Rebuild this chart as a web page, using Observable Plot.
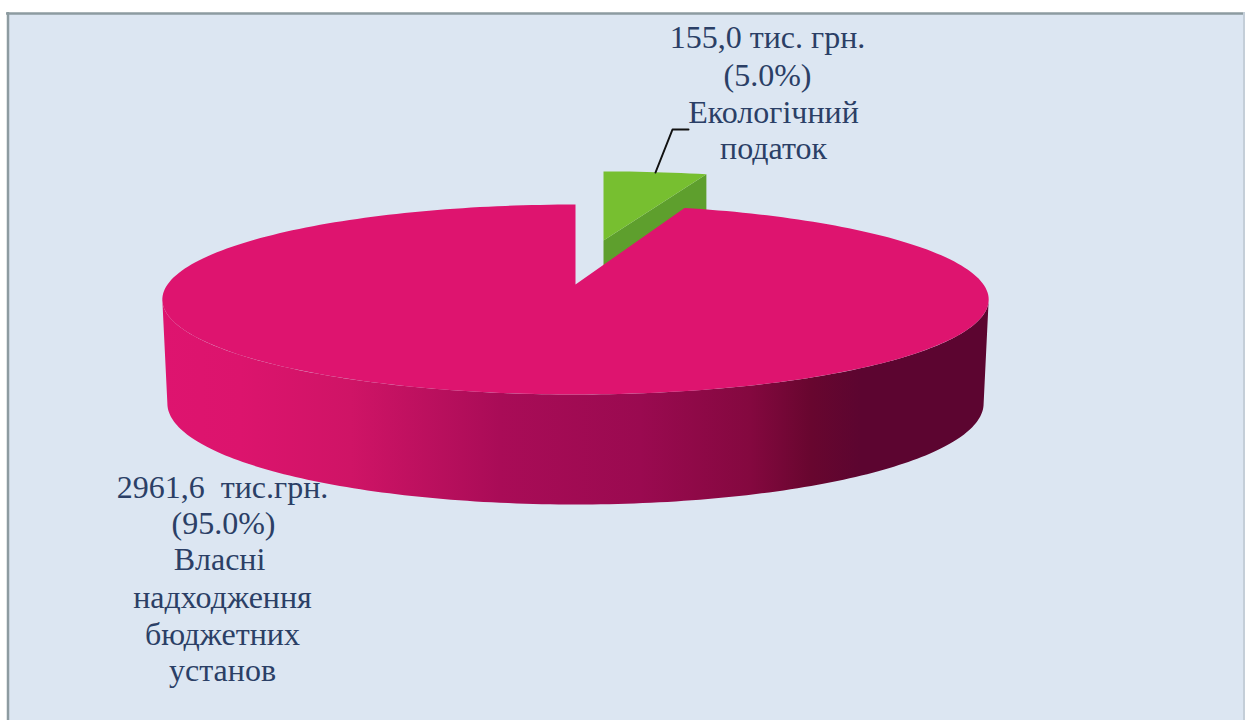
<!DOCTYPE html>
<html><head><meta charset="utf-8">
<script src="https://cdn.jsdelivr.net/npm/d3@7"></script>
<script src="https://cdn.jsdelivr.net/npm/@observablehq/plot@0.6"></script>
<style>html,body{margin:0;padding:0;background:#fff;overflow:hidden}svg{display:block}</style>
</head><body><div id="chart"></div>
<script>
// Data
const categories = ["Екологічний податок", "Власні надходження бюджетних установ"];
const seriesValues = [155.0, 2961.6];
const labelGreen = ["155,0 тис. грн.", "(5.0%)", "Екологічний", "податок"];
const labelPink = ["2961,6  тис.грн.", "(95.0%)", "Власні", "надходження", "бюджетних", "установ"];

// Layout
const W = 1245, H = 720;
const k = 0.158;                 // perspective of the tilted disc
const proj = (a, o) => {
  const w = 1 + k * Math.cos(a);
  return [o.cx + o.A * Math.sin(a) / w, o.cy - o.B * Math.cos(a) / w];
};
const pinkTop = {cx: 575, cy: 284, A: 408, B: 92.6};
const pinkBot = {cx: 575, cy: 387, A: 403, B: 98.5};
const greenTop = {cx: 603, cy: 240, A: 385, B: 80};
const greenBot = {cx: 603, cy: 300, A: 385, B: 80};

const arcs = d3.pie().sort(null).startAngle(0).endAngle(2 * Math.PI)(seriesValues);
const [g, p] = arcs;
const range = (a, b, n) => d3.range(n + 1).map(i => a + (b - a) * i / n);
const toRow = ([x, y]) => ({x, y});

const pinkFace = [[pinkTop.cx, pinkTop.cy], ...range(p.startAngle, p.endAngle, 240).map(a => proj(a, pinkTop))].map(toRow);
const greenFace = [[greenTop.cx, greenTop.cy], ...range(g.startAngle, g.endAngle, 12).map(a => proj(a, greenTop))].map(toRow);
const greenEnd = proj(g.endAngle, greenTop), greenEndB = proj(g.endAngle, greenBot);
const greenWall = [[greenTop.cx, greenTop.cy], greenEnd, greenEndB, [greenBot.cx, greenBot.cy]].map(toRow);

const shadeX = [161, 240, 350, 500, 640, 750, 810, 860, 988];
const shadeC = ["#de146f", "#dc146d", "#cf1466", "#a90c57", "#9a0a50", "#84083f", "#68062f", "#5c0530", "#5c0530"];

const sil = Math.acos(-k);
const steps = range(sil, 2 * Math.PI - sil, 160);
const wall = [...steps.map(a => proj(a, pinkTop)), ...steps.slice().reverse().map(a => proj(a, pinkBot))].map(toRow);

const textRows = (lines, xs, ys) => lines.map((text, i) => ({text, x: xs[i], y: ys[i]}));
const greenText = textRows(labelGreen, [767, 767, 773, 773], [37, 75, 112, 148]);
const pinkText = textRows(labelPink, [222, 223, 219, 222, 222, 222], [487, 523, 559, 597, 634, 670]);
const leader = [[655, 172], [672, 129], [688, 129]].map(toRow);

const txt = {x: "x", y: "y", text: "text", fontFamily: "Liberation Serif", fontSize: 32, fill: "#2b3f66", textAnchor: "middle"};

const gradient = () => {
  const defs = d3.create("svg:defs");
  const lg = defs.append("linearGradient").attr("id", "wallShade")
    .attr("gradientUnits", "userSpaceOnUse")
    .attr("x1", shadeX[0]).attr("x2", shadeX[shadeX.length - 1]).attr("y1", 0).attr("y2", 0);
  shadeX.forEach((x, i) => lg.append("stop")
    .attr("offset", (x - shadeX[0]) / (shadeX[shadeX.length - 1] - shadeX[0]))
    .attr("stop-color", shadeC[i]));
  return defs.node();
};

const chart = Plot.plot({
  width: W, height: H, margin: 0,
  x: {domain: [0, W], range: [0, W], axis: null},
  y: {domain: [0, H], range: [0, H], axis: null},
  style: {background: "transparent"},
  marks: [
    gradient,
    Plot.rect([{x1: 8, x2: 1243, y1: 13, y2: H}], {x1: "x1", x2: "x2", y1: "y1", y2: "y2", fill: "#dce6f2"}),
    Plot.ruleX([7.5], {y1: 12, y2: H, stroke: "#8d9ba1", strokeWidth: 2.5}),
    Plot.ruleY([13], {x1: 6, x2: W, stroke: "#8d9ba1", strokeWidth: 2.5}),
    Plot.ruleX([1243.5], {y1: 12, y2: H, stroke: "#c4ced8", strokeWidth: 2}),
    Plot.line(greenWall, {x: "x", y: "y", fill: "#5e9f2d", stroke: "none"}),
    Plot.line(greenFace, {x: "x", y: "y", fill: "#77bf30", stroke: "none"}),
    Plot.line(wall, {x: "x", y: "y", fill: "url(#wallShade)", stroke: "none"}),
    Plot.line(pinkFace, {x: "x", y: "y", fill: "#de146f", stroke: "none"}),
    Plot.line(leader, {x: "x", y: "y", stroke: "#111", strokeWidth: 2}),
    Plot.text(greenText, txt),
    Plot.text(pinkText, txt)
  ]
});
document.getElementById("chart").append(chart);
</script></body></html>
